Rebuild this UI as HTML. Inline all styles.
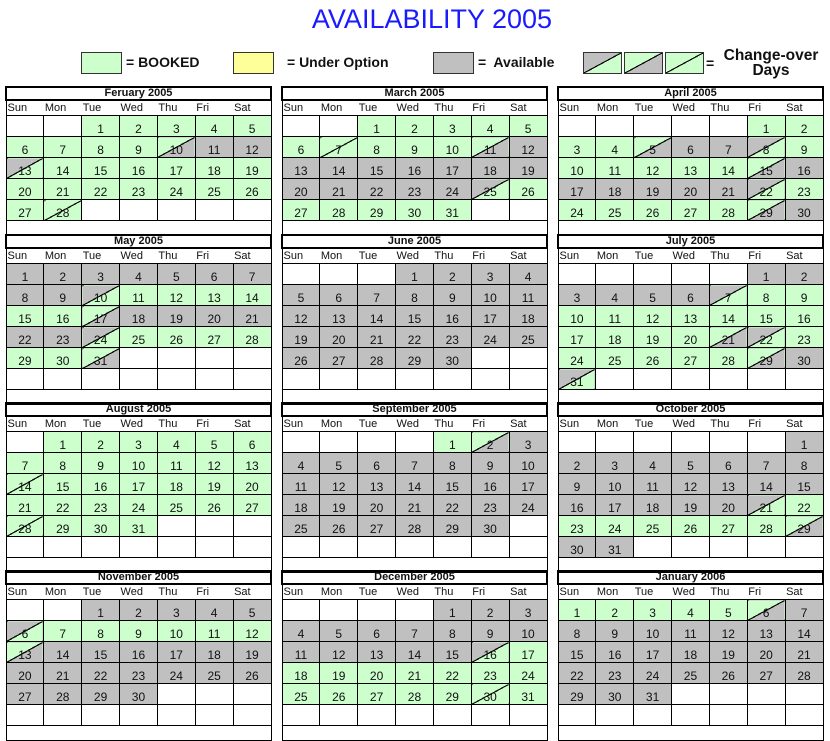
<!DOCTYPE html>
<html><head><meta charset="utf-8"><style>
body{margin:0;width:830px;height:740px;background:#fff;position:relative;overflow:hidden;font-family:"Liberation Sans",Arial,sans-serif}
h1{position:absolute;left:0;width:864px;top:4px;margin:0;text-align:center;font-weight:normal;font-size:27px;color:#1a1aff}
.lg{position:absolute;top:52px;height:20px;width:39px;border:1px solid #333}
.lt{position:absolute;top:54px;font-size:14px;font-weight:bold;color:#111}
table{position:absolute;border-collapse:collapse;table-layout:fixed;width:267px;font-size:12px;border:1px solid #000}
td{border:1px solid #000;height:20px;padding:0 0 0;line-height:13px;text-align:center;vertical-align:bottom;overflow:hidden;color:#111}
tr.t td{border:2px solid #000;font-weight:bold;height:11px;line-height:11px;padding:0;font-size:11px}
tr.h td{border:none;border-top:2px solid #000;height:14px;text-align:left;padding:0 0 0 1px;line-height:13px;vertical-align:middle;font-size:11px}
tr.b td{border:none;height:14px}
.g{background:#ccffcc}.a{background:#c0c0c0}
.ga{background:linear-gradient(to top left,#c0c0c0 calc(50% - .6px),#000 calc(50% - .6px),#000 calc(50% + .6px),#ccffcc calc(50% + .6px))}
.ag{background:linear-gradient(to top left,#ccffcc calc(50% - .6px),#000 calc(50% - .6px),#000 calc(50% + .6px),#c0c0c0 calc(50% + .6px))}
.gg{background:linear-gradient(to top left,#ccffcc calc(50% - .6px),#000 calc(50% - .6px),#000 calc(50% + .6px),#ccffcc calc(50% + .6px))}
</style></head><body>
<h1>AVAILABILITY 2005</h1>
<div class="lg g" style="left:81px"></div><div class="lt" style="left:126px">= BOOKED</div>
<div class="lg" style="left:233px;background:#ffff99"></div><div class="lt" style="left:287px">= Under Option</div>
<div class="lg a" style="left:433px"></div><div class="lt" style="left:478px">=&nbsp; Available</div>
<div class="lg ag" style="left:583px;width:37px"></div><div class="lg ga" style="left:624px;width:37px"></div><div class="lg gg" style="left:665px;width:37px"></div>
<div class="lt" style="left:706px;top:55px">=</div>
<div class="lt" style="left:718px;top:48px;font-size:15.5px;line-height:15px;text-align:center;width:106px">Change-over<br>Days</div>

<!-- Row 1 -->
<table style="left:5px;top:86px">
<tr class="t"><td colspan="7">Feruary 2005</td></tr>
<tr class="h"><td>Sun</td><td>Mon</td><td>Tue</td><td>Wed</td><td>Thu</td><td>Fri</td><td>Sat</td></tr>
<tr><td></td><td></td><td class="g">1</td><td class="g">2</td><td class="g">3</td><td class="g">4</td><td class="g">5</td></tr>
<tr><td class="g">6</td><td class="g">7</td><td class="g">8</td><td class="g">9</td><td class="ga">10</td><td class="a">11</td><td class="a">12</td></tr>
<tr><td class="ag">13</td><td class="g">14</td><td class="g">15</td><td class="g">16</td><td class="g">17</td><td class="g">18</td><td class="g">19</td></tr>
<tr><td class="g">20</td><td class="g">21</td><td class="g">22</td><td class="g">23</td><td class="g">24</td><td class="g">25</td><td class="g">26</td></tr>
<tr><td class="g">27</td><td class="gg">28</td><td></td><td></td><td></td><td></td><td></td></tr>
<tr class="b"><td colspan="7"></td></tr>
</table>
<table style="left:281px;top:86px">
<tr class="t"><td colspan="7">March 2005</td></tr>
<tr class="h"><td>Sun</td><td>Mon</td><td>Tue</td><td>Wed</td><td>Thu</td><td>Fri</td><td>Sat</td></tr>
<tr><td></td><td></td><td class="g">1</td><td class="g">2</td><td class="g">3</td><td class="g">4</td><td class="g">5</td></tr>
<tr><td class="g">6</td><td class="gg">7</td><td class="g">8</td><td class="g">9</td><td class="g">10</td><td class="ga">11</td><td class="a">12</td></tr>
<tr><td class="a">13</td><td class="a">14</td><td class="a">15</td><td class="a">16</td><td class="a">17</td><td class="a">18</td><td class="a">19</td></tr>
<tr><td class="a">20</td><td class="a">21</td><td class="a">22</td><td class="a">23</td><td class="a">24</td><td class="ag">25</td><td class="g">26</td></tr>
<tr><td class="g">27</td><td class="g">28</td><td class="g">29</td><td class="g">30</td><td class="g">31</td><td></td><td></td></tr>
<tr class="b"><td colspan="7"></td></tr>
</table>
<table style="left:557px;top:86px">
<tr class="t"><td colspan="7">April 2005</td></tr>
<tr class="h"><td>Sun</td><td>Mon</td><td>Tue</td><td>Wed</td><td>Thu</td><td>Fri</td><td>Sat</td></tr>
<tr><td></td><td></td><td></td><td></td><td></td><td class="g">1</td><td class="g">2</td></tr>
<tr><td class="g">3</td><td class="g">4</td><td class="ga">5</td><td class="a">6</td><td class="a">7</td><td class="ag">8</td><td class="g">9</td></tr>
<tr><td class="g">10</td><td class="g">11</td><td class="g">12</td><td class="g">13</td><td class="g">14</td><td class="ga">15</td><td class="a">16</td></tr>
<tr><td class="a">17</td><td class="a">18</td><td class="a">19</td><td class="a">20</td><td class="a">21</td><td class="ag">22</td><td class="g">23</td></tr>
<tr><td class="g">24</td><td class="g">25</td><td class="g">26</td><td class="g">27</td><td class="g">28</td><td class="ga">29</td><td class="a">30</td></tr>
<tr class="b"><td colspan="7"></td></tr>
</table>

<!-- Row 2 -->
<table style="left:5px;top:234px">
<tr class="t"><td colspan="7">May 2005</td></tr>
<tr class="h"><td>Sun</td><td>Mon</td><td>Tue</td><td>Wed</td><td>Thu</td><td>Fri</td><td>Sat</td></tr>
<tr><td class="a">1</td><td class="a">2</td><td class="a">3</td><td class="a">4</td><td class="a">5</td><td class="a">6</td><td class="a">7</td></tr>
<tr><td class="a">8</td><td class="a">9</td><td class="ag">10</td><td class="g">11</td><td class="g">12</td><td class="g">13</td><td class="g">14</td></tr>
<tr><td class="g">15</td><td class="g">16</td><td class="ga">17</td><td class="a">18</td><td class="a">19</td><td class="a">20</td><td class="a">21</td></tr>
<tr><td class="a">22</td><td class="a">23</td><td class="ag">24</td><td class="g">25</td><td class="g">26</td><td class="g">27</td><td class="g">28</td></tr>
<tr><td class="g">29</td><td class="g">30</td><td class="ga">31</td><td></td><td></td><td></td><td></td></tr>
<tr><td></td><td></td><td></td><td></td><td></td><td></td><td></td></tr>
<tr class="b"><td colspan="7"></td></tr>
</table>
<table style="left:281px;top:234px">
<tr class="t"><td colspan="7">June 2005</td></tr>
<tr class="h"><td>Sun</td><td>Mon</td><td>Tue</td><td>Wed</td><td>Thu</td><td>Fri</td><td>Sat</td></tr>
<tr><td></td><td></td><td></td><td class="a">1</td><td class="a">2</td><td class="a">3</td><td class="a">4</td></tr>
<tr><td class="a">5</td><td class="a">6</td><td class="a">7</td><td class="a">8</td><td class="a">9</td><td class="a">10</td><td class="a">11</td></tr>
<tr><td class="a">12</td><td class="a">13</td><td class="a">14</td><td class="a">15</td><td class="a">16</td><td class="a">17</td><td class="a">18</td></tr>
<tr><td class="a">19</td><td class="a">20</td><td class="a">21</td><td class="a">22</td><td class="a">23</td><td class="a">24</td><td class="a">25</td></tr>
<tr><td class="a">26</td><td class="a">27</td><td class="a">28</td><td class="a">29</td><td class="a">30</td><td></td><td></td></tr>
<tr><td></td><td></td><td></td><td></td><td></td><td></td><td></td></tr>
<tr class="b"><td colspan="7"></td></tr>
</table>
<table style="left:557px;top:234px">
<tr class="t"><td colspan="7">July 2005</td></tr>
<tr class="h"><td>Sun</td><td>Mon</td><td>Tue</td><td>Wed</td><td>Thu</td><td>Fri</td><td>Sat</td></tr>
<tr><td></td><td></td><td></td><td></td><td></td><td class="a">1</td><td class="a">2</td></tr>
<tr><td class="a">3</td><td class="a">4</td><td class="a">5</td><td class="a">6</td><td class="ag">7</td><td class="g">8</td><td class="g">9</td></tr>
<tr><td class="g">10</td><td class="g">11</td><td class="g">12</td><td class="g">13</td><td class="g">14</td><td class="g">15</td><td class="g">16</td></tr>
<tr><td class="g">17</td><td class="g">18</td><td class="g">19</td><td class="g">20</td><td class="ga">21</td><td class="ag">22</td><td class="g">23</td></tr>
<tr><td class="g">24</td><td class="g">25</td><td class="g">26</td><td class="g">27</td><td class="g">28</td><td class="ga">29</td><td class="a">30</td></tr>
<tr><td class="ag">31</td><td></td><td></td><td></td><td></td><td></td><td></td></tr>
<tr class="b"><td colspan="7"></td></tr>
</table>

<!-- Row 3 -->
<table style="left:5px;top:402px">
<tr class="t"><td colspan="7">August 2005</td></tr>
<tr class="h"><td>Sun</td><td>Mon</td><td>Tue</td><td>Wed</td><td>Thu</td><td>Fri</td><td>Sat</td></tr>
<tr><td></td><td class="g">1</td><td class="g">2</td><td class="g">3</td><td class="g">4</td><td class="g">5</td><td class="g">6</td></tr>
<tr><td class="g">7</td><td class="g">8</td><td class="g">9</td><td class="g">10</td><td class="g">11</td><td class="g">12</td><td class="g">13</td></tr>
<tr><td class="gg">14</td><td class="g">15</td><td class="g">16</td><td class="g">17</td><td class="g">18</td><td class="g">19</td><td class="g">20</td></tr>
<tr><td class="g">21</td><td class="g">22</td><td class="g">23</td><td class="g">24</td><td class="g">25</td><td class="g">26</td><td class="g">27</td></tr>
<tr><td class="gg">28</td><td class="g">29</td><td class="g">30</td><td class="g">31</td><td></td><td></td><td></td></tr>
<tr><td></td><td></td><td></td><td></td><td></td><td></td><td></td></tr>
<tr class="b"><td colspan="7"></td></tr>
</table>
<table style="left:281px;top:402px">
<tr class="t"><td colspan="7">September 2005</td></tr>
<tr class="h"><td>Sun</td><td>Mon</td><td>Tue</td><td>Wed</td><td>Thu</td><td>Fri</td><td>Sat</td></tr>
<tr><td></td><td></td><td></td><td></td><td class="g">1</td><td class="ga">2</td><td class="a">3</td></tr>
<tr><td class="a">4</td><td class="a">5</td><td class="a">6</td><td class="a">7</td><td class="a">8</td><td class="a">9</td><td class="a">10</td></tr>
<tr><td class="a">11</td><td class="a">12</td><td class="a">13</td><td class="a">14</td><td class="a">15</td><td class="a">16</td><td class="a">17</td></tr>
<tr><td class="a">18</td><td class="a">19</td><td class="a">20</td><td class="a">21</td><td class="a">22</td><td class="a">23</td><td class="a">24</td></tr>
<tr><td class="a">25</td><td class="a">26</td><td class="a">27</td><td class="a">28</td><td class="a">29</td><td class="a">30</td><td></td></tr>
<tr><td></td><td></td><td></td><td></td><td></td><td></td><td></td></tr>
<tr class="b"><td colspan="7"></td></tr>
</table>
<table style="left:557px;top:402px">
<tr class="t"><td colspan="7">October 2005</td></tr>
<tr class="h"><td>Sun</td><td>Mon</td><td>Tue</td><td>Wed</td><td>Thu</td><td>Fri</td><td>Sat</td></tr>
<tr><td></td><td></td><td></td><td></td><td></td><td></td><td class="a">1</td></tr>
<tr><td class="a">2</td><td class="a">3</td><td class="a">4</td><td class="a">5</td><td class="a">6</td><td class="a">7</td><td class="a">8</td></tr>
<tr><td class="a">9</td><td class="a">10</td><td class="a">11</td><td class="a">12</td><td class="a">13</td><td class="a">14</td><td class="a">15</td></tr>
<tr><td class="a">16</td><td class="a">17</td><td class="a">18</td><td class="a">19</td><td class="a">20</td><td class="ag">21</td><td class="g">22</td></tr>
<tr><td class="g">23</td><td class="g">24</td><td class="g">25</td><td class="g">26</td><td class="g">27</td><td class="g">28</td><td class="ga">29</td></tr>
<tr><td class="a">30</td><td class="a">31</td><td></td><td></td><td></td><td></td><td></td></tr>
<tr class="b"><td colspan="7"></td></tr>
</table>

<!-- Row 4 -->
<table style="left:5px;top:570px">
<tr class="t"><td colspan="7">November 2005</td></tr>
<tr class="h"><td>Sun</td><td>Mon</td><td>Tue</td><td>Wed</td><td>Thu</td><td>Fri</td><td>Sat</td></tr>
<tr><td></td><td></td><td class="a">1</td><td class="a">2</td><td class="a">3</td><td class="a">4</td><td class="a">5</td></tr>
<tr><td class="ag">6</td><td class="g">7</td><td class="g">8</td><td class="g">9</td><td class="g">10</td><td class="g">11</td><td class="g">12</td></tr>
<tr><td class="ga">13</td><td class="a">14</td><td class="a">15</td><td class="a">16</td><td class="a">17</td><td class="a">18</td><td class="a">19</td></tr>
<tr><td class="a">20</td><td class="a">21</td><td class="a">22</td><td class="a">23</td><td class="a">24</td><td class="a">25</td><td class="a">26</td></tr>
<tr><td class="a">27</td><td class="a">28</td><td class="a">29</td><td class="a">30</td><td></td><td></td><td></td></tr>
<tr><td></td><td></td><td></td><td></td><td></td><td></td><td></td></tr>
<tr class="b"><td colspan="7"></td></tr>
</table>
<table style="left:281px;top:570px">
<tr class="t"><td colspan="7">December 2005</td></tr>
<tr class="h"><td>Sun</td><td>Mon</td><td>Tue</td><td>Wed</td><td>Thu</td><td>Fri</td><td>Sat</td></tr>
<tr><td></td><td></td><td></td><td></td><td class="a">1</td><td class="a">2</td><td class="a">3</td></tr>
<tr><td class="a">4</td><td class="a">5</td><td class="a">6</td><td class="a">7</td><td class="a">8</td><td class="a">9</td><td class="a">10</td></tr>
<tr><td class="a">11</td><td class="a">12</td><td class="a">13</td><td class="a">14</td><td class="a">15</td><td class="ag">16</td><td class="g">17</td></tr>
<tr><td class="g">18</td><td class="g">19</td><td class="g">20</td><td class="g">21</td><td class="g">22</td><td class="g">23</td><td class="g">24</td></tr>
<tr><td class="g">25</td><td class="g">26</td><td class="g">27</td><td class="g">28</td><td class="g">29</td><td class="gg">30</td><td class="g">31</td></tr>
<tr><td></td><td></td><td></td><td></td><td></td><td></td><td></td></tr>
<tr class="b"><td colspan="7"></td></tr>
</table>
<table style="left:557px;top:570px">
<tr class="t"><td colspan="7">January 2006</td></tr>
<tr class="h"><td>Sun</td><td>Mon</td><td>Tue</td><td>Wed</td><td>Thu</td><td>Fri</td><td>Sat</td></tr>
<tr><td class="g">1</td><td class="g">2</td><td class="g">3</td><td class="g">4</td><td class="g">5</td><td class="ga">6</td><td class="a">7</td></tr>
<tr><td class="a">8</td><td class="a">9</td><td class="a">10</td><td class="a">11</td><td class="a">12</td><td class="a">13</td><td class="a">14</td></tr>
<tr><td class="a">15</td><td class="a">16</td><td class="a">17</td><td class="a">18</td><td class="a">19</td><td class="a">20</td><td class="a">21</td></tr>
<tr><td class="a">22</td><td class="a">23</td><td class="a">24</td><td class="a">25</td><td class="a">26</td><td class="a">27</td><td class="a">28</td></tr>
<tr><td class="a">29</td><td class="a">30</td><td class="a">31</td><td></td><td></td><td></td><td></td></tr>
<tr><td></td><td></td><td></td><td></td><td></td><td></td><td></td></tr>
<tr class="b"><td colspan="7"></td></tr>
</table>
</body></html>
